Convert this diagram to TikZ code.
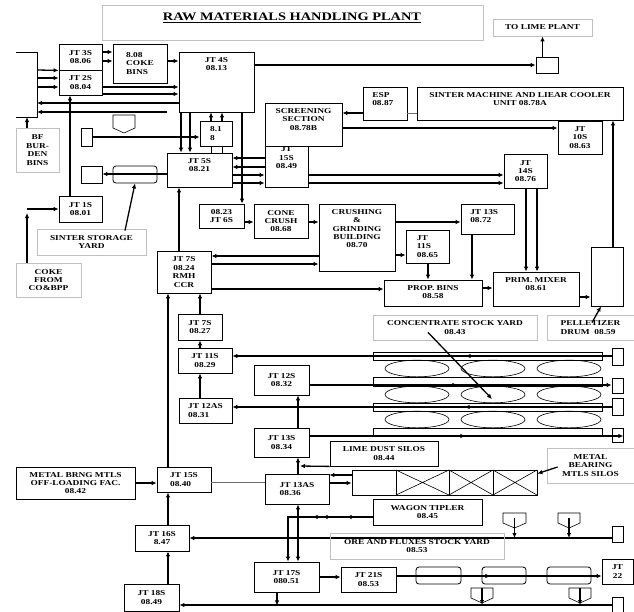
\documentclass[tikz,border=0pt]{standalone}
\usepackage{fontspec}
\setmainfont{Liberation Serif}[FakeStretch=1.25]
\usepackage{tikz}
\usetikzlibrary{arrows.meta,positioning,calc,decorations.markings}
\definecolor{tagline}{RGB}{192,192,192}
\definecolor{linkgray}{RGB}{110,110,110}

\begin{document}
\begin{tikzpicture}[x=1pt,y=-1pt,
  every node/.style={font=\fontsize{7.5}{8.4}\selectfont\bfseries},
  spot/.style n args={4}{at={({(#1+#3)/2},{(#2+#4)/2})},
    minimum width={(#3-#1)*1pt},minimum height={(#4-#2)*1pt}},
  blk/.style={draw,line width=0.8pt,inner sep=0pt,align=center},
  tag/.style={draw=tagline,line width=0.8pt,inner sep=0pt,align=center},
  belt/.style={draw,line width=0.8pt,inner sep=0pt,rounded corners=3pt},
  toptxt/.style={label={[align=center,anchor=north,inner sep=5.5pt]north:{#1}}},
  topl/.style={label={[align=left,anchor=north west,inner sep=5.5pt,xshift=4pt]north west:{#1}}},
  arr/.style={line width=1.3pt,-{Latex[length=5pt,width=4.5pt]}},
  dbl/.style={line width=1.3pt,{Latex[length=5pt,width=4.5pt]}-{Latex[length=5pt,width=4.5pt]}},
  mida/.style={postaction={decorate},decoration={markings,
    mark=at position #1 with {\arrow{Latex[length=5pt,width=4.5pt]}}}},
  thinln/.style={line width=0.6pt}]
  \fill[white] (0,0) rectangle (634,611);
  \useasboundingbox (0,0) rectangle (634,611);
  % title
  \node[tag,spot={102}{5}{483}{40}] (title) {};
  \node[font=\fontsize{11.5}{13}\selectfont\bfseries] (ttext) at (292,17.5) {\underline{RAW MATERIALS HANDLING PLANT}};
  \node[tag,spot={493}{19}{592}{36}] (lime) {TO LIME PLANT};
  \node[blk,spot={536}{57}{558}{73}] (lbox) {};
  % burden bins side
  \draw[line width=0.8pt] (16,52) -- (37,52) -- (37,117) -- (16,117);
  \coordinate (bfa) at (37,52);
  \coordinate (bfb) at (37,117);
  \node[tag,spot={16}{128}{59}{172}] (bf) {BF\\BUR-\\DEN\\BINS};
  \node[blk,spot={59}{44}{102}{70}] (jt3s) {JT 3S\\08.06};
  \node[blk,spot={59}{70}{102}{95}] (jt2s) {JT 2S\\08.04};
  \node[blk,spot={113}{44}{167}{83},align=left] (coke) {8.08\\COKE\\BINS};
  \node[blk,spot={179}{52}{254}{112},toptxt={JT 4S\\08.13}] (jt4s) {};
  \draw[thinln] (113,115) -- (135,115) -- (135,128) -- (124,133) -- (113,128) -- cycle;
  \node[blk,spot={81}{128}{92}{146}] (sb1) {};
  \node[blk,spot={200}{121}{232}{146},align=left] (p818) {8.1\\8};
  \node[blk,spot={167}{153}{232}{187},toptxt={JT 5S\\08.21}] (jt5s) {};
  \node[blk,spot={81}{166}{102}{183}] (sb2) {};
  \node[belt,spot={113}{166}{157}{183}] (sbelt) {};
  \node[tag,spot={37}{229}{146}{255}] (stag) {SINTER STORAGE\\YARD};
  \node[blk,spot={59}{196}{102}{222}] (jt1s) {JT 1S\\08.01};
  \node[tag,spot={16}{263}{81}{297}] (cokein) {COKE\\FROM\\CO\&BPP};
  % sinter and screening
  \node[blk,spot={265}{103}{342}{146},toptxt={SCREENING\\SECTION\\08.78B}] (scr) {};
  \node[blk,spot={265}{146}{308}{187},label={[align=center,anchor=north,inner sep=1pt]north:{JT\\15S\\08.49}}] (jt15a) {};
  \node[blk,spot={363}{87}{407}{120},topl={ESP\\08.87}] (esp) {};
  \node[blk,spot={417}{87}{623}{120},toptxt={SINTER MACHINE AND LIEAR COOLER\\UNIT 08.78A}] (smc) {};
  \node[blk,spot={558}{121}{602}{154}] (jt10s) {JT\\10S\\08.63};
  \node[blk,spot={504}{154}{547}{188}] (jt14s) {JT\\14S\\08.76};
  % crushing and mixing
  \node[blk,spot={199}{204}{244}{228}] (d0823) {08.23\\JT 6S};
  \node[blk,spot={254}{204}{308}{238}] (cone) {CONE\\CRUSH\\08.68};
  \node[blk,spot={319}{204}{395}{271},toptxt={CRUSHING\\\&\\GRINDING\\BUILDING\\08.70}] (crush) {};
  \node[blk,spot={406}{230}{449}{263},align=left] (j1165) {JT\\11S\\08.65};
  \node[blk,spot={461}{204}{514}{234},topl={JT 13S\\08.72}] (j1372) {};
  \node[blk,spot={384}{280}{482}{306},toptxt={PROP. BINS\\08.58}] (prop) {};
  \node[blk,spot={493}{272}{579}{306},toptxt={PRIM. MIXER\\08.61}] (mix) {};
  \node[blk,spot={591}{247}{623}{306}] (pel) {};
  \node[tag,spot={547}{315}{634}{340},align=left] (peltag) {PELLETIZER\\DRUM\ \ 08.59};
  \node[tag,spot={373}{315}{537}{340}] (ctag) {CONCENTRATE STOCK YARD\\08.43};
  % transfer towers
  \node[blk,spot={157}{251}{211}{293}] (jt7s) {JT 7S\\08.24\\RMH\\CCR};
  \node[blk,spot={178}{314}{222}{340}] (j0827) {JT 7S\\08.27};
  \node[blk,spot={178}{348}{232}{373}] (j0829) {JT 11S\\08.29};
  \node[blk,spot={179}{398}{232}{423},align=left] (j0831) {JT 12AS\\08.31};
  \node[blk,spot={254}{365}{309}{395}] (j0832) {JT 12S\\08.32};
  \node[blk,spot={254}{428}{309}{457}] (j0834) {JT 13S\\08.34};
  \node[blk,spot={265}{474}{329}{504},align=left] (j0836) {JT 13AS\\08.36};
  \node[blk,spot={330}{441}{438}{466}] (dust) {LIME DUST SILOS\\08.44};
  \node[blk,spot={157}{467}{211}{492},align=left] (j0840) {JT 15S\\08.40};
  \node[blk,spot={16}{467}{135}{499}] (mfac) {METAL BRNG MTLS\\OFF-LOADING FAC.\\08.42};
  \node[blk,spot={135}{525}{189}{551}] (j0847) {JT 16S\\8.47};
  \node[blk,spot={124}{584}{179}{611}] (j0849) {JT 18S\\08.49};
  \node[blk,spot={254}{562}{319}{592}] (j17) {JT 17S\\080.51};
  \node[blk,spot={341}{567}{396}{592}] (j21) {JT 21S\\08.53};
  \node[blk,spot={602}{559}{633}{584}] (j22) {JT\\22};
  \node[belt,spot={416}{567}{461}{584}] (b1) {};
  \node[belt,spot={482}{567}{526}{584}] (b2) {};
  \node[belt,spot={547}{567}{591}{584}] (b3) {};
  \node[blk,spot={373}{499}{482}{525}] (wagon) {WAGON TIPLER\\08.45};
  \node[tag,spot={547}{448}{634}{483}] (mtag) {METAL\\BEARING\\MTLS SILOS};
  \node[blk,spot={352}{470}{537}{495}] (msil) {};
  \draw[line width=0.8pt] (396,470) -- (396,495) (449,470) -- (449,495) (493,470) -- (493,495);
  \draw[thinln] (396,470) -- (449,495) (396,495) -- (449,470) (449,470) -- (493,495)
    (449,495) -- (493,470) (493,470) -- (537,495) (493,495) -- (537,470);
  % stock yards
  \draw[line width=0.8pt] (373,352) rectangle (602,360) (373,377) rectangle (602,386)
    (373,403) rectangle (602,411) (373,428) rectangle (602,435);
  \draw[thinln] (417,368.5) ellipse [x radius=32,y radius=8.3] (493,368.5) ellipse [x radius=32,y radius=8.3] (569,368.5) ellipse [x radius=32,y radius=8.3];
  \draw[thinln] (417,394.5) ellipse [x radius=32,y radius=8.3] (493,394.5) ellipse [x radius=32,y radius=8.3] (569,394.5) ellipse [x radius=32,y radius=8.3];
  \draw[thinln] (417,419.5) ellipse [x radius=32,y radius=8.3] (493,419.5) ellipse [x radius=32,y radius=8.3] (569,419.5) ellipse [x radius=32,y radius=8.3];
  \node[blk,spot={612}{348}{623}{365}] (sy1) {};
  \node[blk,spot={612}{378}{623}{393}] (sy2) {};
  \node[blk,spot={612}{398}{623}{415}] (sy3) {};
  \node[blk,spot={612}{428}{623}{442}] (sy4) {};
  \node[blk,spot={612}{526}{623}{542}] (sy5) {};
  \node[blk,spot={612}{597}{623}{615}] (sy6) {};
  \coordinate (pile) at (492,399);
  \coordinate (riser) at (300,466);
  % hoppers
  \draw[thinln] (503,513) -- (526,513) -- (526,523) -- (514.5,528) -- (503,523) -- cycle;
  \draw[thinln] (558,513) -- (580,513) -- (580,523) -- (569,528) -- (558,523) -- cycle;
  \draw[thinln] (471,588) -- (493,588) -- (493,598) -- (482,603) -- (471,598) -- cycle;
  \draw[thinln] (569,588) -- (591,588) -- (591,598) -- (580,603) -- (569,598) -- cycle;
  \draw[arr] (514.5,518) -- (514.5,538);
  \draw[arr] (569,518) -- (569,538);
  \draw[arr] (482,588) -- (482,605);
  \draw[arr] (580,588) -- (580,605);
  % connectors, top left
  \draw[arr] (lime.south |- lbox.north) -- (lime.south);
  \draw[arr] (jt4s.east |- lbox.west) -- (lbox.west);
  \draw[arr] ([xshift=-10.5pt]bf.north) -- ([xshift=-10.5pt]bf.north |- bfb);
  \draw[arr] (jt3s.east |- 0,52) -- (coke.west |- 0,52);
  \draw[arr] (jt3s.east |- 0,61) -- (coke.west |- 0,61);
  \draw[arr] (coke.east |- 0,61) -- (jt4s.west |- 0,61);
  \draw[arr] (bfa |- 0,70) -- (jt3s.south west);
  \draw[arr] (bfa |- 0,78) -- (jt2s.west |- 0,78);
  \draw[arr] (bfa |- 0,87) -- (jt2s.west |- 0,87);
  \draw[arr] (jt2s.east |- 0,87) -- (jt4s.west |- 0,87);
  \draw[arr] (jt2s.east |- 0,94) -- (jt4s.west |- 0,94);
  \draw[arr] (jt4s.west |- 0,103) -- (bfa |- 0,103);
  \draw[arr] (coke.east |- 0,112) -- (bfa |- 0,112);
  \draw[arr] (sb1.east) -- (p818.west |- sb1.east);
  \draw[arr] (p818.north -| 211,0) -- (jt4s.south -| 211,0);
  \draw[arr] (p818.north -| 222,0) -- (jt4s.south -| 222,0);
  \draw[thinln] (p818.south -| 211,0) -- (jt5s.north -| 211,0);
  \draw[thinln] (p818.south -| 222,0) -- (jt5s.north -| 222,0);
  \draw[arr] (jt4s.south -| 181,0) -- (jt5s.north -| 181,0);
  \draw[arr] (jt4s.south -| 190,0) -- (jt5s.north -| 190,0);
  \draw[arr] (jt4s.south -| 242,0) -- (d0823.north -| 242,0);
  \draw[arr] (jt5s.west |- 0,174) -- (sb2.east |- 0,174);
  \draw[arr] ([shift={(33.5,2)}]stag.north) -- (sbelt.south);
  \draw[arr] (jt1s.north -| 70,0) -- (jt2s.south -| 70,0);
  \draw[arr] (jt1s.west -| 27,0) -- (jt1s.west);
  \draw[arr] (cokein.north -| 27,0) -- ([yshift=-4pt]jt1s.west -| 27,0);
  % connectors, sinter and mixing
  \draw[arr] (jt15a.west |- 0,158) -- (jt5s.east |- 0,158);
  \draw[arr] (jt15a.west |- 0,167) -- (jt5s.east |- 0,167);
  \draw[arr] (jt5s.east |- 0,175) -- (jt15a.west |- 0,175);
  \draw[arr] (jt5s.east |- 0,183) -- (jt15a.west |- 0,183);
  \draw[arr] (jt15a.east |- 0,175) -- (jt14s.west |- 0,175);
  \draw[arr] (jt15a.east |- 0,183) -- (jt14s.west |- 0,183);
  \draw[arr] (esp.west |- 0,113) -- (scr.east |- 0,113);
  \draw[thinln,linkgray] (esp.east |- 0,113) -- (smc.west |- 0,113);
  \draw[arr] (scr.east |- 0,128) -- (jt10s.west |- 0,128);
  \draw[arr] (d0823.east |- 0,222) -- (cone.west |- 0,222);
  \draw[arr] (cone.east |- 0,222) -- (crush.west |- 0,222);
  \draw[arr] (crush.east |- 0,222) -- (j1372.west |- 0,222);
  \draw[arr] (crush.east |- 0,255) -- (j1165.west |- 0,255);
  \draw[arr] (j1165.south -| 428,0) -- (prop.north -| 428,0);
  \draw[arr] (j1372.south -| 472,0) -- (prop.north -| 472,0);
  \draw[arr] (prop.east |- 0,288) -- (mix.west |- 0,288);
  \draw[arr] (jt14s.south -| 526,0) -- (mix.north -| 526,0);
  \draw[arr] (jt14s.south -| 537,0) -- (mix.north -| 537,0);
  \draw[arr] (mix.east |- 0,297) -- (pel.west |- 0,297);
  \draw[arr] (pel.north -| 613,0) -- (smc.south -| 613,0);
  \draw[arr] ([shift={(1.5,8)}]peltag.north) -- ([xshift=-6pt]pel.south);
  \draw[arr] (jt7s.north -| 179,0) -- (jt5s.south -| 179,0);
  \draw[arr] (crush.west |- 0,256) -- (jt7s.east |- 0,256);
  \draw[arr] (jt7s.east |- 0,264) -- (crush.west |- 0,264);
  \draw[arr] (jt7s.east |- 0,289) -- (prop.west |- 0,289);
  % connectors, yards
  \draw[arr] ($(ctag.south)+(-27,-8)$) -- (pile);
  \draw[arr,mida=146pt] (sy1.west |- 0,356) -- (j0829.east |- 0,356);
  \draw[arr,mida=148pt] (j0832.east |- 0,385) -- (sy2.west |- 0,385);
  \draw[arr,mida=147pt] (sy3.west |- 0,407) -- (j0831.east |- 0,407);
  \draw[arr,mida=156pt] (j0834.east |- 0,436) -- (sy4.east |- 0,436);
  \draw[arr] (j0827.north -| 200,0) -- (jt7s.south -| 200,0);
  \draw[arr] (j0829.north -| 200,0) -- (j0827.south -| 200,0);
  \draw[arr] (j0831.north -| 200,0) -- (j0829.south -| 200,0);
  \draw[arr] (j0840.north -| 168,0) -- (jt7s.south -| 168,0);
  \draw[arr] (mfac.east |- 0,483) -- (j0840.west |- 0,483);
  \draw[thinln,linkgray] (j0840.east |- 0,482) -- (j0836.west |- 0,482);
  \draw[arr] (j0847.north -| 168,0) -- (j0840.south -| 168,0);
  \draw[arr] (j0849.north -| 168,0) -- (j0847.south -| 168,0);
  \draw[arr] (j0834.north -| 298,0) -- (j0832.south -| 298,0);
  \draw[arr] (j0836.north -| 298,0) -- (j0834.south -| 298,0);
  \draw[arr] (dust.south west) -- (riser);
  \draw[arr] (msil.west |- 0,475) -- (j0836.east |- 0,475);
  \draw[arr] (j0836.east |- 0,483) -- (msil.west |- 0,483);
  \draw[arr] ([xshift=11pt,yshift=-1.5pt]mtag.west) -- ([yshift=-4pt]msil.north east);
  \draw[arr,postaction={decorate},decoration={markings,
      mark=at position 26pt with {\arrow{Latex[length=5pt,width=4.5pt]}},
      mark=at position 50pt with {\arrow{Latex[length=5pt,width=4.5pt]}},
      mark=at position 60pt with {\arrow{Latex[length=5pt,width=4.5pt]}}}]
    (wagon.west |- 0,517) -| (j17.north -| 288,0);
  \draw[dbl] (j0836.south -| 298,0) -- (j17.north -| 298,0);
  \draw[arr] (sy5.west |- 0,538) -- (j0847.east |- 0,538);
  \node[tag,spot={330}{533}{504}{559}] (oretag) {ORE AND FLUXES STOCK YARD\\08.53};
  \draw[arr] (j17.east |- 0,577) -- (j21.west |- 0,577);
  \draw[arr,mida=94pt] (j21.east |- 0,576) -- (j22.west |- 0,576);
  \draw[arr] (sy6.west |- 0,605) -- (j0849.east |- 0,605);
  \draw[arr] (j17.south -| 277,0) -- ++(0,13);
\end{tikzpicture}
\end{document}
